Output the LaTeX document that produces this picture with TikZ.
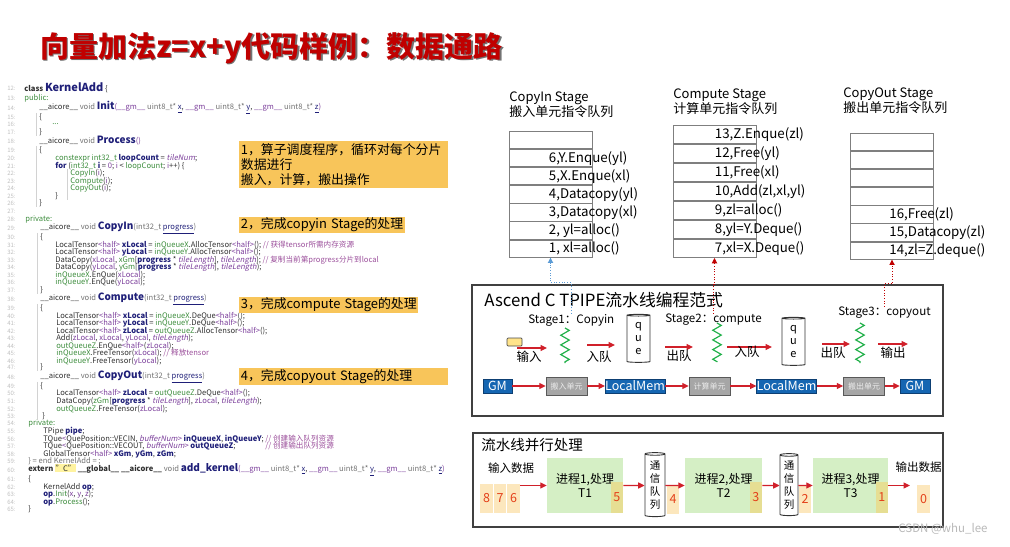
\documentclass[tikz,border=0pt]{standalone}
\usepackage{fontspec}
\setmainfont{Noto Sans CJK SC}[AutoFakeSlant=0.2]
\usepackage{tikz}
\usetikzlibrary{arrows.meta,positioning,calc,shapes.geometric,decorations.pathmorphing}

\definecolor{titlered}{HTML}{C00000}
\definecolor{noteorange}{HTML}{F8C55A}
\definecolor{cellgray}{HTML}{7F7F7F}
\definecolor{inblue}{HTML}{5B9BD5}
\definecolor{dotred}{HTML}{C00000}
\definecolor{wigglegreen}{HTML}{22B04A}
\definecolor{tokyellow}{HTML}{FFE38A}
\definecolor{flowred}{HTML}{D0202A}
\definecolor{gmblue}{HTML}{1566B2}
\definecolor{gmline}{HTML}{0D3F73}
\definecolor{unitgray}{HTML}{A6A6A6}
\definecolor{procgreen}{HTML}{D5EFC5}
\definecolor{numfill}{HTML}{FCE7BD}
\definecolor{numred}{HTML}{E4401A}
\definecolor{numolive}{HTML}{E6DE93}
\definecolor{cdefault}{HTML}{303030}
\definecolor{cgreen}{HTML}{3C8C3C}
\definecolor{cpurple}{HTML}{7A3D9A}
\definecolor{cnavy}{HTML}{1F1F78}
\definecolor{cgray}{HTML}{707070}
\definecolor{ccomment}{HTML}{9B4F9B}
\definecolor{hlyellow}{HTML}{FFF3A0}

\newdimen\px \px=0.02cm
\newcommand\pxfont[2]{\fontsize{#1\px}{#2\px}\selectfont}
% code colouring
\newcommand\cdk[1]{\textcolor{cgreen}{#1}}
\newcommand\cdv[1]{\textcolor{cpurple}{#1}}
\newcommand\cdn[1]{\textcolor{cnavy}{\bfseries #1}}
\newcommand\cdt[1]{\textcolor{cgray}{#1}}
\newcommand\cdi[1]{\textcolor{cpurple}{\itshape #1}}
\newcommand\cdp[1]{\textcolor{cnavy}{\underline{#1}}}
\newcommand\cdc[1]{\textcolor{ccomment}{#1}}
\newcommand\cdf[1]{{\pxfont{10}{11}\bfseries\textcolor{cnavy}{#1}}}
\newcommand\hlc[1]{{\fboxsep=0.3pt\colorbox{hlyellow}{#1}}}

\begin{document}
\begin{tikzpicture}[x=0.02cm,y=-0.02cm,>=Latex,
   code/.style={anchor=west,inner sep=0pt,font=\pxfont{7.6}{8.5},text=cdefault},
   lnum/.style={anchor=east,inner sep=0pt,font=\pxfont{6}{7},text=gray!50},
   guide/.style={draw=gray!35,line width=0.5\px},
   note/.style={fill=noteorange,inner xsep=1.5\px,inner ysep=1\px,align=left,font=\pxfont{12.9}{15.2}},
   qhead/.style={anchor=north west,inner sep=0pt,align=left,font=\pxfont{13}{15}},
   qcell/.style={draw=cellgray,line width=0.8\px,minimum width=83\px,inner sep=0pt},
   qtext/.style={inner sep=0pt,font=\pxfont{13.3}{15}},
   frame/.style={draw=black!75,line width=1.6\px},
   stagelab/.style={anchor=west,inner sep=0pt,font=\pxfont{11.6}{13}},
   wiggle/.style={draw=wigglegreen,line width=1.2\px,decorate,
     decoration={zigzag,segment length=5.5pt,amplitude=2.4pt}},
   que/.style={cylinder,shape border rotate=90,draw=black!80,line width=0.9\px,
     aspect=0.25,align=center,inner sep=0pt},
   flow/.style={draw=flowred,line width=1.1\px,-{Triangle[length=3.6pt,width=3.4pt]}},
   arrlab/.style={inner sep=0pt,font=\pxfont{12.5}{14}},
   gmbox/.style={fill=gmblue,draw=gmline,line width=0.6\px,text=white,
     minimum height=14\px,inner sep=0pt,font=\pxfont{12.5}{14}},
   unitbox/.style={fill=unitgray,draw=gray!70!black,line width=0.6\px,text=gray!15,
     minimum width=41\px,minimum height=18\px,inner sep=0pt,font=\pxfont{8}{9}},
   proc/.style={fill=procgreen,minimum width=76\px,minimum height=55\px,
     align=center,font=\pxfont{12}{13.5}},
   numcell/.style={fill=numfill,minimum width=12.5\px,minimum height=29\px,
     inner sep=0pt,text=numred,font=\pxfont{12.5}{14}},
   incell/.style={numcell,fill=numolive,minimum height=31\px}]
\useasboundingbox (0,0) rectangle (1010,547);

% title
\node[anchor=west,inner sep=0pt,font=\pxfont{29}{32}\bfseries,text=black!55] (titleshade) at (41.5,49.5)
  {向量加法z=x+y代码样例：数据通路};
\node[anchor=west,inner sep=0pt,font=\pxfont{29}{32}\bfseries,text=titlered] (title) at (40,48)
  {向量加法z=x+y代码样例：数据通路};

% code listing
\foreach \n/\y in {12/88,13/98,14/108,15/117,16/124,17/132,18/141,19/150,20/158,
    21/166,22/173,23/181,24/188,25/196,26/203,27/211,28/219,29/228,30/237,31/245,
    32/252,33/260,34/267,35/275,36/282,37/290,38/299,39/308,40/316,41/323,42/331,
    43/338,44/346,45/353,46/361,47/367,48/377,49/386,50/393,51/401,52/409,53/416,
    54/423,55/431,56/439,57/446,58/454,59/461,60/470,61/479,62/487,63/494,64/502,65/509}
  \node[lnum] (n\n) at (16,\y) {\n:};
\node[code] (l12) at (24,88) {\textbf{class} {\pxfont{11}{12}\bfseries\textcolor{cnavy}{KernelAdd}} \{};
\node[code] (l13) at (24,98) {\cdk{public:}};
\node[code] (l14) at (39,108) {\_\_aicore\_\_ \cdt{void} \cdf{Init}\cdv{(\_\_gm\_\_} \cdt{uint8\_t*} \cdp{x}, \cdv{\_\_gm\_\_} \cdt{uint8\_t*} \cdp{y}, \cdv{\_\_gm\_\_} \cdt{uint8\_t*} \cdp{z}\cdv{)}};
\node[code] (l15) at (39,117) {\{};
\node[code] (l16) at (52,124) {\cdk{...}};
\node[code] (l17) at (39,132) {\}};
\node[code] (l18) at (39,141) {\_\_aicore\_\_ \cdt{void} \cdf{Process}\cdv{()}};
\node[code] (l19) at (39,150) {\{};
\node[code] (l20) at (55,158) {\cdk{constexpr int32\_t} \cdn{loopCount} = \cdi{tileNum};};
\node[code] (l21) at (55,166) {\cdn{for} (\cdk{int32\_t} \cdn{i} = \cdv{0}; \cdv{i} < \cdk{loopCount}; \cdv{i}++) \{};
\node[code] (l22) at (70,173) {\cdk{CopyIn}(\cdv{i});};
\node[code] (l23) at (70,181) {\cdk{Compute}(\cdv{i});};
\node[code] (l24) at (70,188) {\cdk{CopyOut}(\cdv{i});};
\node[code] (l25) at (55,196) {\}};
\node[code] (l26) at (39,203) {\}};
\node[code] (l28) at (25,219) {\cdk{private:}};
\node[code] (l29) at (40,228) {\_\_aicore\_\_ \cdt{void} \cdf{CopyIn}\cdt{(int32\_t} \cdp{progress}\cdt{)}};
\node[code] (l30) at (40,237) {\{};
\node[code] (l31) at (55,245) {LocalTensor\cdv{<half>} \cdn{xLocal} = \cdk{inQueueX}.AllocTensor\cdv{<half>}(); \cdc{// 获得tensor所需内存资源}};
\node[code] (l32) at (55,252) {LocalTensor\cdv{<half>} \cdn{yLocal} = \cdk{inQueueY}.AllocTensor\cdv{<half>}();};
\node[code] (l33) at (55,260) {DataCopy(\cdv{xLocal}, \cdk{xGm}[\cdn{progress} * \cdi{tileLength}], \cdi{tileLength}); \cdc{// 复制当前第progress分片到local}};
\node[code] (l34) at (55,267) {DataCopy(\cdv{yLocal}, \cdk{yGm}[\cdn{progress} * \cdi{tileLength}], \cdi{tileLength});};
\node[code] (l35) at (55,275) {\cdk{inQueueX}.EnQue(\cdv{xLocal});};
\node[code] (l36) at (55,282) {\cdk{inQueueY}.EnQue(\cdv{yLocal});};
\node[code] (l37) at (40,290) {\}};
\node[code] (l38) at (40,299) {\_\_aicore\_\_ \cdt{void} \cdf{Compute}\cdt{(int32\_t} \cdp{progress}\cdt{)}};
\node[code] (l39) at (40,308) {\{};
\node[code] (l40) at (56,316) {LocalTensor\cdv{<half>} \cdn{xLocal} = \cdk{inQueueX}.DeQue\cdv{<half>}();};
\node[code] (l41) at (56,323) {LocalTensor\cdv{<half>} \cdn{yLocal} = \cdk{inQueueY}.DeQue\cdv{<half>}();};
\node[code] (l42) at (56,331) {LocalTensor\cdv{<half>} \cdn{zLocal} = \cdk{outQueueZ}.AllocTensor\cdv{<half>}();};
\node[code] (l43) at (56,338) {Add(\cdv{zLocal}, \cdv{xLocal}, \cdv{yLocal}, \cdi{tileLength});};
\node[code] (l44) at (56,346) {\cdk{outQueueZ}.EnQue\cdv{<half>}(\cdv{zLocal});};
\node[code] (l45) at (56,353) {\cdk{inQueueX}.FreeTensor(\cdv{xLocal}); \cdc{// 释放tensor}};
\node[code] (l46) at (56,361) {\cdk{inQueueY}.FreeTensor(\cdv{yLocal});};
\node[code] (l47) at (40,367) {\}};
\node[code] (l48) at (40,377) {\_\_aicore\_\_ \cdt{void} \cdf{CopyOut}\cdt{(int32\_t} \cdp{progress}\cdt{)}};
\node[code] (l49) at (40,386) {\{};
\node[code] (l50) at (56,393) {LocalTensor\cdv{<half>} \cdn{zLocal} = \cdk{outQueueZ}.DeQue\cdv{<half>}();};
\node[code] (l51) at (56,401) {DataCopy(\cdk{zGm}[\cdn{progress} * \cdi{tileLength}], \cdv{zLocal}, \cdi{tileLength});};
\node[code] (l52) at (56,409) {\cdk{outQueueZ}.FreeTensor(\cdv{zLocal});};
\node[code] (l53) at (42,416) {\}};
\node[code] (l54) at (28,423) {\cdk{private:}};
\node[code] (l55) at (43,431) {TPipe \cdn{pipe};};
\node[code] (l56) at (43,439) {TQue\cdv{<}QuePosition::VECIN, \cdi{bufferNum}\cdv{>} \cdn{inQueueX}, \cdn{inQueueY}; \cdc{// 创建输入队列资源}};
\node[code] (l57) at (43,446) {TQue\cdv{<}QuePosition::VECOUT, \cdi{bufferNum}\cdv{>} \cdn{outQueueZ};};
\node[code] (c57) at (l56.east |- 0,446) [anchor=east] {\cdc{// 创建输出队列资源}};
\node[code] (l58) at (43,454) {GlobalTensor\cdv{<half>} \cdn{xGm}, \cdn{yGm}, \cdn{zGm};};
\node[code] (l59) at (28,461) {\cdt{\} = end KernelAdd = ;}};
\node[code] (l60) at (28,470) {\textbf{extern} \hlc{"C"} \textbf{\_\_global\_\_ \_\_aicore\_\_} \cdt{void} \cdf{add\_kernel}\cdv{(\_\_gm\_\_} \cdt{uint8\_t*} \cdp{x}, \cdv{\_\_gm\_\_} \cdt{uint8\_t*} \cdp{y}, \cdv{\_\_gm\_\_} \cdt{uint8\_t*} \cdp{z}\cdv{)}};
\node[code] (l61) at (28,479) {\{};
\node[code] (l62) at (43,487) {KernelAdd \cdn{op};};
\node[code] (l63) at (43,494) {\cdn{op}.\cdk{Init}(\cdv{x}, \cdv{y}, \cdv{z});};
\node[code] (l64) at (43,502) {\cdn{op}.\cdk{Process}();};
\node[code] (l65) at (28,509) {\}};
% indent guides
\draw[guide] ([xshift=-3\px]l15.north west) -- ([xshift=-3\px]l17.south west);
\draw[guide] ([xshift=-3\px]l19.north west) -- ([xshift=-3\px]l26.south west);
\draw[guide] ([xshift=-3\px]l22.north west) -- ([xshift=-3\px]l24.south west |- l25.south);
\draw[guide] ([xshift=-3\px]l30.north west) -- ([xshift=-3\px]l37.south west);
\draw[guide] ([xshift=-3\px]l39.north west) -- ([xshift=-3\px]l47.south west);
\draw[guide] ([xshift=-3\px]l49.north west) -- ([xshift=-5\px]l53.south west);

% orange notes
\node[note,anchor=north west,text width=206\px,minimum height=46\px,inner ysep=2\px] (note1) at (239,141)
  {1，算子调度程序，循环对每个分片\\数据进行\\搬入，计算，搬出操作};
\node[note,anchor=west,text width=163\px] (note2) at (239,225) {2，完成copyin~Stage的处理};
\node[note,anchor=west,text width=176\px] (note3) at (239,305) {3，完成compute~Stage的处理};
\node[note,anchor=west,text width=206\px] (note4) at (239,376.5) {4，完成copyout~Stage的处理};

% instruction queues
\node[qhead] (hin) at (509,91) {CopyIn Stage\\搬入单元指令队列};
\node[qcell,minimum height=17.3\px,anchor=north] (ci0) at (550.5,131) {};
\node[qcell,minimum height=17.3\px,below=0pt of ci0] (ci6) {};
\node[qcell,minimum height=17.3\px,below=0pt of ci6] (ci5) {};
\node[qcell,minimum height=17.3\px,below=0pt of ci5] (ci4) {};
\node[qcell,minimum height=17.3\px,below=0pt of ci4] (ci3) {};
\node[qcell,minimum height=17.3\px,below=0pt of ci3] (ci2) {};
\node[qcell,minimum height=17.3\px,below=0pt of ci2] (ci1) {};
\node[qtext,right=40\px of ci6.west] (ti6) {6,Y.Enque(yl)};
\node[qtext,right=40\px of ci5.west] (ti5) {5,X.Enque(xl)};
\node[qtext,right=40\px of ci4.west] (ti4) {4,Datacopy(yl)};
\node[qtext,right=40\px of ci3.west] (ti3) {3,Datacopy(xl)};
\node[qtext,right=40\px of ci2.west] (ti2) {2, yl=alloc()};
\node[qtext,right=40\px of ci1.west] (ti1) {1, xl=alloc()};

\node[qhead] (hcp) at (673,88) {Compute Stage\\计算单元指令队列};
\node[qcell,minimum height=18.2\px,anchor=north] (cp13) at (714.5,125) {};
\node[qcell,minimum height=18.2\px,below=0pt of cp13] (cp12) {};
\node[qcell,minimum height=18.2\px,below=0pt of cp12] (cp11) {};
\node[qcell,minimum height=18.2\px,below=0pt of cp11] (cp10) {};
\node[qcell,minimum height=18.2\px,below=0pt of cp10] (cp9) {};
\node[qcell,minimum height=18.2\px,below=0pt of cp9] (cp8) {};
\node[qcell,minimum height=18.2\px,below=0pt of cp8] (cp7) {};
\node[qtext,right=42\px of cp13.west] (tc13) {13,Z.Enque(zl)};
\node[qtext,right=42\px of cp12.west] (tc12) {12,Free(yl)};
\node[qtext,right=42\px of cp11.west] (tc11) {11,Free(xl)};
\node[qtext,right=42\px of cp10.west] (tc10) {10,Add(zl,xl,yl)};
\node[qtext,right=42\px of cp9.west] (tc9) {9,zl=alloc()};
\node[qtext,right=42\px of cp8.west] (tc8) {8,yl=Y.Deque()};
\node[qtext,right=42\px of cp7.west] (tc7) {7,xl=X.Deque()};

\node[qhead] (hco) at (843,87) {CopyOut Stage\\搬出单元指令队列};
\node[qcell,minimum height=17.3\px,anchor=north] (cq4) at (892,133) {};
\node[qcell,minimum height=17.3\px,below=0pt of cq4] (cq3) {};
\node[qcell,minimum height=17.3\px,below=0pt of cq3] (cq2) {};
\node[qcell,minimum height=17.3\px,below=0pt of cq2] (cq1) {};
\node[qcell,minimum height=17.3\px,below=0pt of cq1] (cq16) {};
\node[qcell,minimum height=17.3\px,below=0pt of cq16] (cq15) {};
\node[qcell,minimum height=17.3\px,below=0pt of cq15] (cq14) {};
\node[qtext,right=39\px of cq16.west] (to16) {16,Free(zl)};
\node[qtext,right=39\px of cq15.west] (to15) {15,Datacopy(zl)};
\node[qtext,right=39\px of cq14.west] (to14) {14,zl=Z.deque()};

% TPIPE paradigm
\node[frame,minimum width=471\px,minimum height=131\px] (tpipe) at (707.5,350.5) {};
\node[anchor=west,inner sep=0pt,font=\pxfont{16.8}{18}] (tptitle) at (484,300) {Ascend C TPIPE流水线编程范式};
\node[stagelab] (s1) at (528,320) {Stage1：Copyin};
\node[stagelab] (s2) at (665,320) {Stage2：compute};
\node[stagelab] (s3) at (838,313) {Stage3：copyout};
\draw[inblue,line width=0.9\px,densely dotted,-{Triangle[length=3pt,width=3pt]}]
  (s1.north) |- ($(ci1.south)+(0,25)$) -| (ci1.south);
\draw[dotred,line width=0.9\px,densely dotted,-{Triangle[length=3pt,width=3pt]}]
  (s2.north) |- ($(cp7.south)+(0,26)$) -| (cp7.south);
\draw[dotred,line width=0.9\px,densely dotted,-{Triangle[length=3pt,width=3pt]}]
  (s3.north) |- ($(cq14.south)+(0,24)$) -| (cq14.south);

\node[fill=tokyellow,draw=black!70,line width=0.7\px,rounded corners=1\px,
  minimum width=15\px,minimum height=8\px,inner sep=0pt] (tok) at (514.5,342) {};
\draw[wiggle] (565,328) -- (565,363);
\draw[wiggle] (717,323) -- (717,362);
\draw[wiggle] (860,323) -- (860,363);
\node[que,minimum width=23\px,minimum height=48\px,font=\pxfont{11}{13}] (que1) at (638.5,339) {q\\u\\e};
\node[que,minimum width=23\px,minimum height=48\px,font=\pxfont{11}{13}] (que2) at (793.5,342) {q\\u\\e};

\coordinate (a1s) at (517,348); \coordinate (a1e) at (547,348);
\coordinate (a2s) at (587,345); \coordinate (a2e) at (615,345);
\coordinate (a3s) at (665,347); \coordinate (a3e) at (693,347);
\coordinate (a4s) at (727,347); \coordinate (a4e) at (772,347);
\coordinate (a5s) at (822,344); \coordinate (a5e) at (850,344);
\coordinate (a6s) at (878,344); \coordinate (a6e) at (908,344);
\draw[flow] (a1s) -- (a1e);
\draw[flow] (a2s) -- (a2e);
\draw[flow] (a3s) -- (a3e);
\draw[flow] (a4s) -- (a4e);
\draw[flow] (a5s) -- (a5e);
\draw[flow] (a6s) -- (a6e);
\node[arrlab] (lb1) at (529,357) {输入};
\node[arrlab] (lb2) at (599,357) {入队};
\node[arrlab] (lb3) at (679,356) {出队};
\node[arrlab] (lb4) at (747,352) {入队};
\node[arrlab] (lb5) at (833,353) {出队};
\node[arrlab] (lb6) at (893,353) {输出};

\node[gmbox,minimum width=29\px] (gm1) at (497.5,386) {GM};
\node[unitbox] (cu1) at (566.5,386) {搬入单元};
\node[gmbox,minimum width=56\px] (lm1) at (635,386) {LocalMem};
\node[unitbox] (cu2) at (709.5,386) {计算单元};
\node[gmbox,minimum width=57\px] (lm2) at (786.5,386) {LocalMem};
\node[unitbox] (cu3) at (864,386) {搬出单元};
\node[gmbox,minimum width=30\px] (gm2) at (915,386) {GM};
\draw[flow] (gm1) -- (cu1);
\draw[flow] (cu1) -- (lm1);
\draw[flow] (lm1) -- (cu2);
\draw[flow] (cu2) -- (lm2);
\draw[flow] (lm2) -- (cu3);
\draw[flow] (cu3) -- (gm2);

% pipeline parallel processing
\node[frame,minimum width=470\px,minimum height=94\px] (pipe) at (708,480) {};
\node[anchor=west,inner sep=0pt,font=\pxfont{14.5}{16}] (pltitle) at (481,445) {流水线并行处理};
\node[inner sep=0pt,font=\pxfont{11.5}{13}] (indata) at (511,468) {输入数据};
\node[inner sep=0pt,font=\pxfont{11.5}{13}] (outdata) at (918.5,467) {输出数据};
\node[numcell] (n8) at (486.5,498.5) {8};
\node[numcell] (n7) at (500,498.5) {7};
\node[numcell] (n6) at (513.5,498.5) {6};
\node[proc] (t1) at (585,485.5) {进程1,处理\\T1};
\node[incell,anchor=south east] (k5) at (t1.south east) {5};
\node[que,minimum width=20\px,minimum height=64\px,font=\pxfont{10.5}{13}] (q1) at (655,485.5) {通\\信\\队\\列};
\node[numcell,minimum width=12\px] (k4) at (673,499.5) {4};
\node[proc,minimum width=77\px] (t2) at (723.5,485.5) {进程2,处理\\T2};
\node[incell,anchor=south east] (k3) at (t2.south east) {3};
\node[que,minimum width=18\px,minimum height=62\px,font=\pxfont{10.5}{13}] (q2) at (789,485.5) {通\\信\\队\\列};
\node[numcell,minimum width=12\px,minimum height=28\px] (k2) at (805,499) {2};
\node[proc,minimum width=75\px] (t3) at (850.5,485.5) {进程3,处理\\T3};
\node[incell,anchor=south east] (k1) at (t3.south east) {1};
\node[numcell,minimum height=28\px] (k0) at (923.5,499) {0};
\coordinate (pend) at (910,485.5);
\draw[flow] (n6.east |- t1.west) -- (t1.west);
\draw[flow] (t1) -- (q1);
\draw[flow] (q1) -- (t2);
\draw[flow] (t2) -- (q2);
\draw[flow] (q2) -- (t3);
\draw[flow] (t3.east) -- (pend);

\node[inner sep=0pt,font=\pxfont{11.5}{13},text=gray!55] (wm) at (943,529) {CSDN @whu\_lee};
\end{tikzpicture}
\end{document}
